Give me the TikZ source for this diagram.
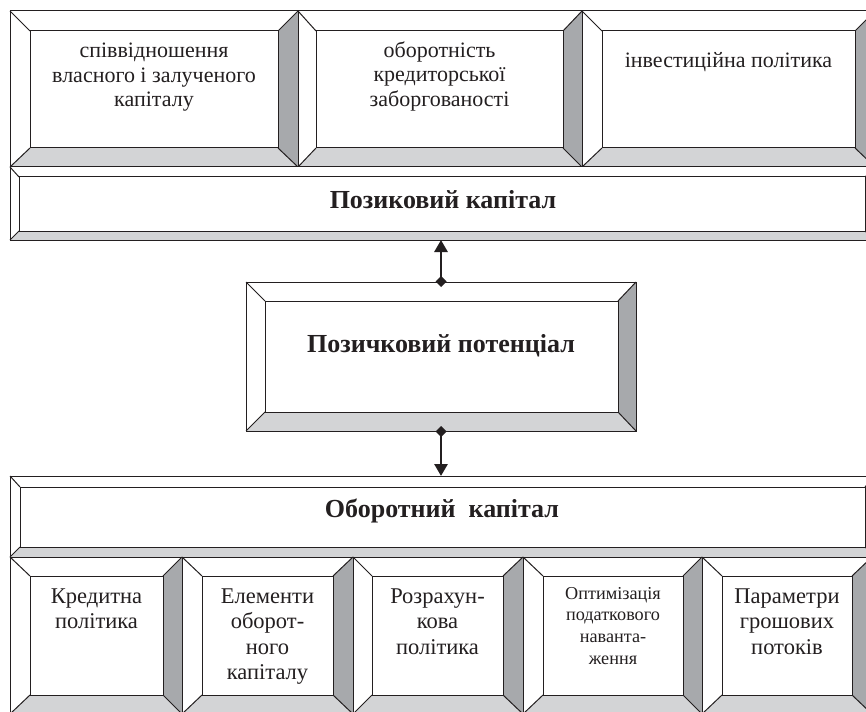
\documentclass[tikz,border=0pt]{standalone}
\usepackage{fontspec}
\setmainfont{Liberation Serif}
\usetikzlibrary{arrows.meta}
\definecolor{ink}{HTML}{231F20}
\definecolor{lgr}{HTML}{D3D4D6}
\definecolor{dgr}{HTML}{A7A9AC}
\newcommand\ml[1]{\begin{tabular}[t]{@{}c@{}}#1\end{tabular}}
\newcommand\fA{\fontsize{22}{24.5}\selectfont}
\newcommand\fB{\fontsize{22.5}{25.5}\selectfont}
\newcommand\fC{\fontsize{18.2}{21.7}\selectfont}
\newcommand\fT{\fontsize{26}{28}\selectfont\bfseries}
\tikzset{
  outerbox/.style={inner sep=0pt, outer sep=0pt, draw=none},
  ln/.style={draw=ink, line width=1pt, line join=miter},
  txt/.style={inner sep=0pt, outer sep=0pt, text=ink, anchor=base},
  conn/.style={draw=ink, line width=2.8pt, {Diamond[length=11pt,width=11pt]}-{Triangle[length=12pt,width=13pt]}}
}
% name, x1, y1, x2, y2, left, top, right, bottom bevel
\newcommand\bev[9]{%
  \node[outerbox, minimum width={(#4-#2)*1pt}, minimum height={(#5-#3)*1pt}, anchor=north west] (#1) at (#2,#3) {};
  \coordinate (#1-nw) at (#2+#6,#3+#7);
  \coordinate (#1-ne) at (#4-#8,#3+#7);
  \coordinate (#1-se) at (#4-#8,#5-#9);
  \coordinate (#1-sw) at (#2+#6,#5-#9);
  \fill[white] (#1.north west) -- (#1.north east) -- (#1-ne) -- (#1-nw) -- cycle;
  \fill[white] (#1.north west) -- (#1.south west) -- (#1-sw) -- (#1-nw) -- cycle;
  \fill[lgr] (#1.south west) -- (#1.south east) -- (#1-se) -- (#1-sw) -- cycle;
  \fill[dgr] (#1.north east) -- (#1.south east) -- (#1-se) -- (#1-ne) -- cycle;
  \draw[ln] (#1.north west) rectangle (#1.south east);
  \draw[ln] (#1-nw) rectangle (#1-se);
  \draw[ln] (#1.north west) -- (#1-nw) (#1.north east) -- (#1-ne)
            (#1.south east) -- (#1-se) (#1.south west) -- (#1-sw);
}
\begin{document}
\begin{tikzpicture}[x=1pt,y=-1pt]
\useasboundingbox (0,0) rectangle (866,711);
\fill[white] (0,0) rectangle (866,711);
\clip (0,0) rectangle (866,711);
% top row
\bev{k1}{10}{11}{298}{167}{20}{20}{20}{19}
\bev{k2}{298}{11}{582}{167}{18}{20}{19}{19}
\bev{k3}{582}{11}{875}{167}{20}{20}{20}{19}
% bars
\bev{poz}{10}{167}{875}{240}{9}{10}{10}{9}
\bev{pot}{246}{282}{636}{431}{19}{19}{18}{19}
\bev{obo}{10}{476}{875}{557}{10}{11}{10}{10}
% bottom row
\bev{b1}{10}{557}{182}{714}{20}{19}{19}{19}
\bev{b2}{182}{557}{353}{714}{20}{19}{20}{19}
\bev{b3}{353}{557}{523}{714}{19}{19}{20}{19}
\bev{b4}{523}{557}{702}{714}{20}{19}{19}{19}
\bev{b5}{702}{557}{872}{714}{20}{19}{20}{19}
% texts
\node[txt] (t1) at (154,58) {\fA\ml{співвідношення\\власного і залученого\\капіталу}};
\node[txt] (t2) at (439.5,57.5) {\fA\ml{оборотність\\кредиторської\\заборгованості}};
\node[txt] (t3) at (728.5,68) {\fA\ml{інвестиційна політика}};
\node[txt] (tpoz) at (443,209) {\fT Позиковий капітал};
\node[txt] (tpot) at (441,352) {\fT Позичковий потенціал};
\node[txt] (tobo) at (442,517) {\fT Оборотний\ \ капітал};
\node[txt] (u1) at (96.5,603) {\fB\ml{Кредитна\\політика}};
\node[txt] (u2) at (267.5,603) {\fB\ml{Елементи\\оборот-\\ного\\капіталу}};
\node[txt] (u3) at (437.5,603) {\fB\ml{Розрахун-\\кова\\політика}};
\node[txt] (u4) at (613,599) {\fC\ml{Оптимізація\\податкового\\наванта-\\ження}};
\node[txt] (u5) at (787,603) {\fB\ml{Параметри\\грошових\\потоків}};
% connectors
\draw[conn] ([yshift=-5pt]pot.north) -- (pot.north |- poz.south);
\draw[conn] ([yshift=5pt]pot.south) -- (pot.south |- obo.north);
\end{tikzpicture}
\end{document}
